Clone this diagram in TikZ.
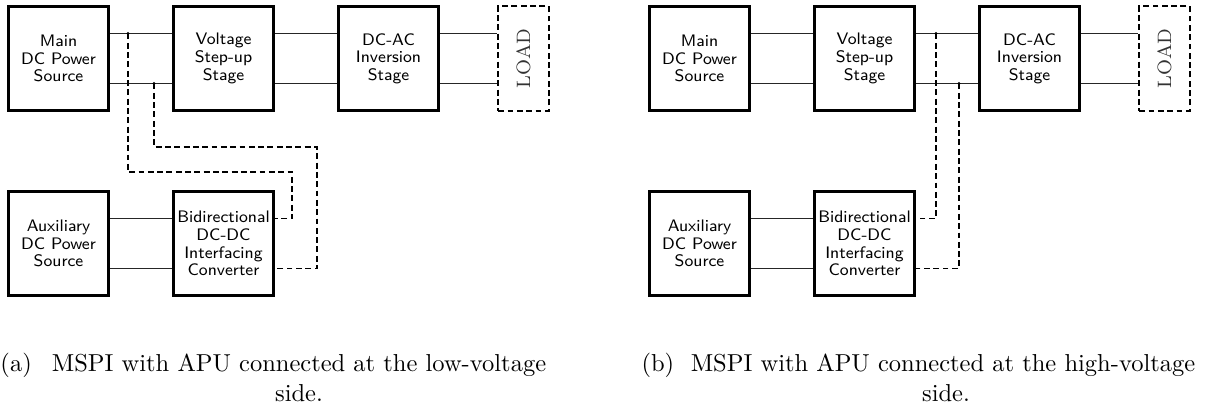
\documentclass[tikz,border=0pt]{standalone}
\begin{document}
\begin{tikzpicture}[x=0.408pt, y=-0.408pt,
  blk/.style={draw, line width=1.2pt, minimum width=41pt, minimum height=42.6pt, inner sep=0pt, align=center, font=\sffamily\fontsize{6.8}{7.2}\selectfont},
  ldbox/.style={draw, line width=0.8pt, dash pattern=on 2.4pt off 1.4pt, minimum width=20.6pt, minimum height=42.6pt, inner sep=0pt},
  ldtext/.style={font=\fontsize{7.9}{9}\selectfont, inner sep=0pt, text=black!80},
  wire/.style={line width=0.45pt, draw=black!85},
  dwire/.style={line width=0.8pt, dash pattern=on 2.4pt off 1.4pt},
  jdot/.style={circle, fill, inner sep=0pt, minimum size=1.3pt},
  captxt/.style={font=\fontsize{10}{12}\selectfont, inner sep=0pt}
]
\useasboundingbox (0,0) rectangle (1213,407);
\def\dy{10.2pt}
% ---------------- (a) ----------------
\node[blk] (maina) at (58.5,58.5) {Main\\DC Power\\Source};
\node[blk] (volta) at (223.5,58.5) {Voltage\\Step-up\\Stage};
\node[blk] (dcaca) at (388.5,58.5) {DC-AC\\Inversion\\Stage};
\node[ldbox] (loada) at (523.5,58.5) {};
\node[ldtext, rotate=90] (loadta) at (loada) {LOAD};
\node[blk] (auxa) at (58.5,243.5) {Auxiliary\\DC Power\\Source};
\node[blk] (bidira) at (223.5,243.5) {Bidirectional\\DC-DC\\Interfacing\\Converter};
\draw[wire] ([yshift=\dy]maina.east) -- ([yshift=\dy]volta.west);
\draw[wire] ([yshift=-\dy]maina.east) -- ([yshift=-\dy]volta.west);
\draw[wire] ([yshift=\dy]volta.east) -- ([yshift=\dy]dcaca.west);
\draw[wire] ([yshift=-\dy]volta.east) -- ([yshift=-\dy]dcaca.west);
\draw[wire] ([yshift=\dy]dcaca.east) -- ([yshift=\dy]loada.west);
\draw[wire] ([yshift=-\dy]dcaca.east) -- ([yshift=-\dy]loada.west);
\draw[wire] ([yshift=\dy]auxa.east) -- ([yshift=\dy]bidira.west);
\draw[wire] ([yshift=-\dy]auxa.east) -- ([yshift=-\dy]bidira.west);
\node[jdot] (d1a) at (128,33.5) {};
\node[jdot] (d2a) at (154,83.5) {};
\coordinate (c1a) at (292,172);
\coordinate (c2a) at (317,147);
\draw[dwire] (d1a.center) |- (c1a) |- ([yshift=\dy]bidira.east);
\draw[dwire] (d2a.center) |- (c2a) |- ([yshift=-\dy]bidira.east);
\node[captxt, anchor=base west] (laba) at (0,371) {(a)};
\node[captxt, anchor=base] (cap1a) at (299,371) {MSPI with APU connected at the low-voltage};
\node[captxt, anchor=base] (cap2a) at (299,401) {side.};
% ---------------- (b) ----------------
\begin{scope}[xshift=641*0.408pt]
\node[blk] (mainb) at (58.5,58.5) {Main\\DC Power\\Source};
\node[blk] (voltb) at (223.5,58.5) {Voltage\\Step-up\\Stage};
\node[blk] (dcacb) at (388.5,58.5) {DC-AC\\Inversion\\Stage};
\node[ldbox] (loadb) at (523.5,58.5) {};
\node[ldtext, rotate=90] (loadtb) at (loadb) {LOAD};
\node[blk] (auxb) at (58.5,243.5) {Auxiliary\\DC Power\\Source};
\node[blk] (bidirb) at (223.5,243.5) {Bidirectional\\DC-DC\\Interfacing\\Converter};
\draw[wire] ([yshift=\dy]mainb.east) -- ([yshift=\dy]voltb.west);
\draw[wire] ([yshift=-\dy]mainb.east) -- ([yshift=-\dy]voltb.west);
\draw[wire] ([yshift=\dy]voltb.east) -- ([yshift=\dy]dcacb.west);
\draw[wire] ([yshift=-\dy]voltb.east) -- ([yshift=-\dy]dcacb.west);
\draw[wire] ([yshift=\dy]dcacb.east) -- ([yshift=\dy]loadb.west);
\draw[wire] ([yshift=-\dy]dcacb.east) -- ([yshift=-\dy]loadb.west);
\draw[wire] ([yshift=\dy]auxb.east) -- ([yshift=\dy]bidirb.west);
\draw[wire] ([yshift=-\dy]auxb.east) -- ([yshift=-\dy]bidirb.west);
\node[jdot] (d1b) at (295,33.5) {};
\node[jdot] (d2b) at (318,83.5) {};
\draw[dwire] (d1b.center) |- ([yshift=\dy]bidirb.east);
\draw[dwire] (d2b.center) |- ([yshift=-\dy]bidirb.east);
\node[captxt, anchor=base west] (labb) at (0,371) {(b)};
\node[captxt, anchor=base] (cap1b) at (302,371) {MSPI with APU connected at the high-voltage};
\node[captxt, anchor=base] (cap2b) at (305,401) {side.};
\end{scope}
\end{tikzpicture}
\end{document}
